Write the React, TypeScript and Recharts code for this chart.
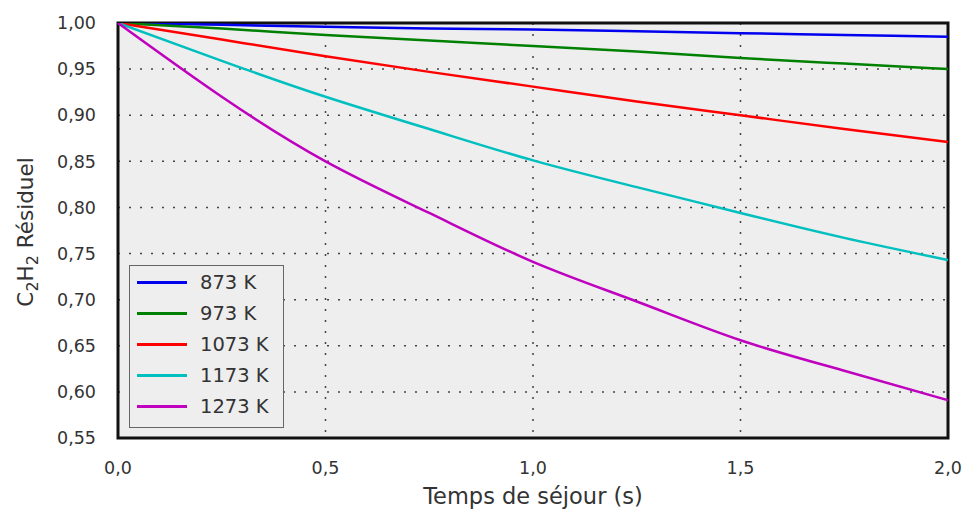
import React from 'react';
import {LineChart, Line, XAxis, YAxis, CartesianGrid} from 'recharts';

// residence time (s)
const temps: number[] = [0, 0.25, 0.5, 0.75, 1.0, 1.25, 1.5, 1.75, 2.0];

// residual C2H2 fraction
const k873: number[] = [1.000, 0.998, 0.996, 0.994, 0.993, 0.991, 0.989, 0.987, 0.985];
const k973: number[] = [1.000, 0.994, 0.987, 0.981, 0.975, 0.969, 0.962, 0.956, 0.950];
const k1073: number[] = [1.000, 0.982, 0.964, 0.947, 0.931, 0.915, 0.900, 0.885, 0.871];
const k1173: number[] = [1.000, 0.959, 0.920, 0.885, 0.851, 0.822, 0.794, 0.767, 0.743];
const k1273: number[] = [1.000, 0.920, 0.850, 0.794, 0.741, 0.698, 0.656, 0.623, 0.591];

const xTicks: number[] = [0, 0.5, 1.0, 1.5, 2.0];
const yTicks: number[] = [0.55, 0.60, 0.65, 0.70, 0.75, 0.80, 0.85, 0.90, 0.95, 1.00];

const series = [
    {key: 'k873', label: '873 K', color: '#0000ee', values: k873},
    {key: 'k973', label: '973 K', color: '#008000', values: k973},
    {key: 'k1073', label: '1073 K', color: '#ff0000', values: k1073},
    {key: 'k1173', label: '1173 K', color: '#00bfbf', values: k1173},
    {key: 'k1273', label: '1273 K', color: '#bf00bf', values: k1273},
];

const data = temps.map((t, i) => {
    const row: any = {t};
    series.forEach(s => { row[s.key] = s.values[i]; });
    return row;
});

const FONT = '"DejaVu Sans", sans-serif';
const TXT = '#333333';

function LegendBox() {
    return (
        <div style={{
            position: 'absolute', left: 129, top: 265,
            width: 155, height: 163, boxSizing: 'border-box', background: '#eeeeee',
            border: '1px solid #666', padding: '1px 0 0 7px', fontFamily: FONT, fontSize: 19.5, color: TXT
        }}>
            {series.map(s => (
                <div key={s.key} style={{display: 'flex', alignItems: 'center', height: 31}}>
                    <div style={{width: 50, height: 3, background: s.color, marginRight: 13}} />
                    <span>{s.label}</span>
                </div>
            ))}
        </div>
    );
}

function YLabel() {
    return (
        <text x={33} y={232} transform="rotate(-90, 33, 232)" textAnchor="middle"
              fontFamily={FONT} fontSize={21.5} fill={TXT}>
            C<tspan fontSize={16} dy={5}>2</tspan><tspan dy={-5}>H</tspan>
            <tspan fontSize={16} dy={5}>2</tspan><tspan dy={-5}> Résiduel</tspan>
        </text>
    );
}

export default function App() {
    return (
        <div style={{position: 'absolute', left: 0, top: 0, width: 965, height: 513, background: '#fff'}}>
            <LineChart width={965} height={513} data={data}
                       margin={{top: 23, right: 17, bottom: 45, left: 58}}>
                <CartesianGrid stroke="#444" strokeDasharray="2 9" strokeWidth={1.5}
                               fill="#eeeeee" fillOpacity={1}
                               horizontalValues={yTicks} verticalValues={[0.5, 1.0, 1.5]} />
                <XAxis dataKey="t" type="number" domain={[0, 2]} ticks={xTicks} height={30}
                       tickFormatter={(v: number) => v.toFixed(1).replace('.', ',')}
                       axisLine={false} tickLine={false} tickMargin={18}
                       tick={{fill: TXT, fontSize: 17.5, fontFamily: FONT}}
                       label={{value: 'Temps de séjour (s)', position: 'bottom', offset: 20,
                               fill: TXT, fontSize: 22.5, fontFamily: FONT}} />
                <YAxis type="number" domain={[0.55, 1.0]} ticks={yTicks} allowDataOverflow width={60}
                       tickFormatter={(v: number) => v.toFixed(2).replace('.', ',')}
                       axisLine={false} tickLine={false} tickMargin={16}
                       tick={{fill: TXT, fontSize: 17.5, fontFamily: FONT}} />
                {series.map(s => (
                    <Line key={s.key} type="natural" dataKey={s.key} stroke={s.color}
                          strokeWidth={2.5} dot={false} isAnimationActive={false} />
                ))}
                <rect x={118} y={23} width={830} height={415} fill="none" stroke="#111" strokeWidth={3} />
                <YLabel />
            </LineChart>
            <LegendBox />
        </div>
    );
}
